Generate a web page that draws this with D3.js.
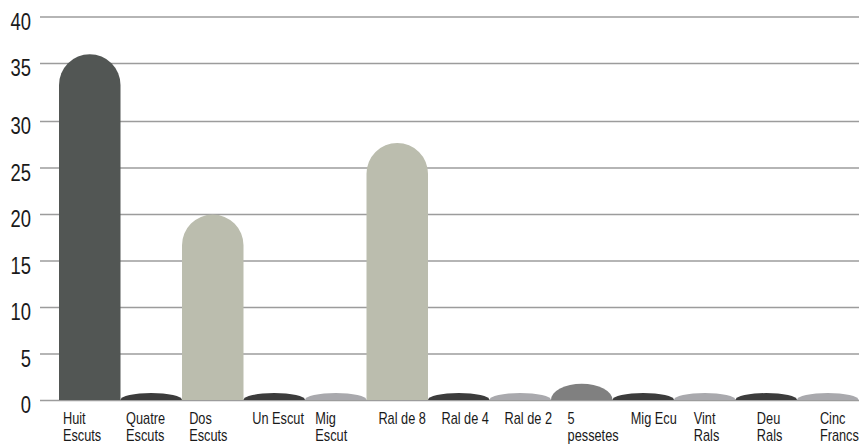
<!DOCTYPE html>
<html>
<head>
<meta charset="utf-8">
<script src="https://cdn.jsdelivr.net/npm/d3@7"></script>
<style>
  html, body { margin: 0; padding: 0; background: #ffffff; }
  svg { display: block; }
  text { font-family: "Liberation Sans", Arial, sans-serif; fill: #1a1a1a; }
</style>
</head>
<body>
<svg id="chart" width="859" height="447"></svg>
<script>
// ---- data ----
const categories = ["Huit Escuts", "Quatre Escuts", "Dos Escuts", "Un Escut", "Mig Escut", "Ral de 8",
  "Ral de 4", "Ral de 2", "5 pessetes", "Mig Ecu", "Vint Rals", "Deu Rals", "Cinc Francs"];
const labelLines = [["Huit", "Escuts"], ["Quatre", "Escuts"], ["Dos", "Escuts"], ["Un Escut"], ["Mig", "Escut"],
  ["Ral de 8"], ["Ral de 4"], ["Ral de 2"], ["5", "pessetes"], ["Mig Ecu"], ["Vint", "Rals"], ["Deu", "Rals"], ["Cinc", "Francs"]];
const values = [36, 0.8, 20, 0.8, 0.8, 27.7, 0.8, 0.8, 1.8, 0.8, 0.8, 0.8, 0.8];
const yTicks = [0, 5, 10, 15, 20, 25, 30, 35, 40];
const barColors = ["#525654", "#3c3c3c", "#bbbdae", "#3c3c3c", "#a9a9ad", "#bbbdae",
  "#3c3c3c", "#a9a9ad", "#808080", "#3c3c3c", "#a9a9ad", "#3c3c3c", "#a9a9ad"];

// ---- layout ----
const svg = d3.select("#chart");
const x = d3.scaleBand().domain(categories).range([59, 858.5]).padding(0);
const xLabel = d3.scaleBand().domain(categories).range([63, 883]).padding(0);
const y = d3.scaleLinear().domain([0, 30, 35, 40]).range([400.5, 121.6, 63.5, 17]);

// gridlines
svg.append("g").selectAll("line").data(yTicks).join("line")
  .attr("x1", 40).attr("x2", 859)
  .attr("y1", d => y(d)).attr("y2", d => y(d))
  .attr("stroke", "#9c9c9c").attr("stroke-width", 1.5);

// y tick labels (condensed)
svg.append("g").selectAll("text").data(yTicks).join("text")
  .attr("transform", d => `translate(31,${y(d) + 12.5}) scale(0.8,1)`)
  .attr("text-anchor", "end")
  .style("font-size", "23px")
  .text(d => d);

// bars with rounded tops
function barPath(v, cat) {
  const x0 = x(cat), w = x.bandwidth(), r = w / 2;
  const top = y(v), bot = y(0) - 0.5, h = bot - top;
  if (h > r) {
    return `M${x0},${bot}V${top + r}A${r},${r} 0 0 1 ${x0 + w},${top + r}V${bot}Z`;
  }
  return `M${x0},${bot}A${r},${h} 0 0 1 ${x0 + w},${bot}Z`;
}
svg.append("g").selectAll("path").data(categories).join("path")
  .attr("d", (c, i) => barPath(values[i], c))
  .attr("fill", (c, i) => barColors[i]);

// x labels (condensed, left aligned, wrapped)
const lg = svg.append("g").selectAll("text").data(categories).join("text")
  .attr("transform", c => `translate(${xLabel(c)},423.5) scale(0.75,1)`)
  .style("font-size", "17px");
lg.selectAll("tspan").data((c, i) => labelLines[i]).join("tspan")
  .attr("x", 0)
  .attr("dy", (d, j) => j === 0 ? 0 : 18)
  .text(d => d);
</script>
</body>
</html>
